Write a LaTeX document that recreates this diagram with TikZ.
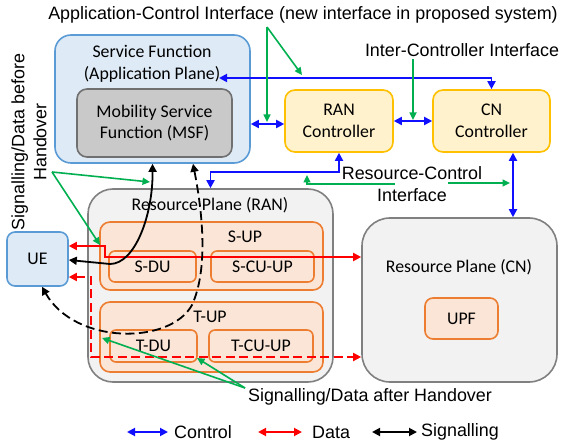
\documentclass[tikz,border=0pt]{standalone}
\usepackage{fontspec}
\setmainfont{Carlito}
\newfontfamily\arialf{Liberation Sans}
\usetikzlibrary{arrows.meta,calc}
\definecolor{sfill}{HTML}{DEEBF7}
\definecolor{sdraw}{HTML}{5B9BD5}
\definecolor{gfill}{HTML}{C9C9C9}
\definecolor{gdraw}{HTML}{707070}
\definecolor{yfill}{HTML}{FFF2CC}
\definecolor{ydraw}{HTML}{FFC000}
\definecolor{pfill}{HTML}{F2F2F2}
\definecolor{pdraw}{HTML}{808080}
\definecolor{ofill}{HTML}{FBE5D6}
\definecolor{odraw}{HTML}{ED7D31}
\definecolor{ggreen}{HTML}{00B050}
\definecolor{cblue}{HTML}{1010FF}
\definecolor{dred}{HTML}{FF0000}
\begin{document}
\begin{tikzpicture}[x=1pt,y=-1pt,
  >={Triangle[length=8pt,width=8pt]},
  box/.style={rectangle, line width=1.6pt, inner sep=0pt, align=center,
    font=\fontsize{17.8}{21.5}\selectfont},
  bluebox/.style={box, draw=sdraw, fill=sfill},
  graybox/.style={box, draw=gdraw, fill=gfill},
  ybox/.style={box, draw=ydraw, fill=yfill, rounded corners=10pt},
  pbox/.style={box, draw=pdraw, fill=pfill},
  obox/.style={box, draw=odraw, fill=ofill},
  txt/.style={inner sep=0pt, align=center, font=\fontsize{17.8}{21.5}\selectfont},
  atxt/.style={inner sep=0pt, align=center, font=\arialf\fontsize{17.9}{22}\selectfont},
  ctrl/.style={draw=cblue, line width=1.8pt},
  data/.style={draw=dred, line width=1.8pt},
  sig/.style={draw=black, line width=1.8pt},
  dashpat/.style={dash pattern=on 9pt off 4.5pt},
  ptr/.style={draw=ggreen, line width=1.6pt, -{Triangle[length=7.5pt,width=7pt]}}
]
\useasboundingbox (0,0) rectangle (561,443);

% boxes
\node[bluebox, rounded corners=16pt, minimum width=195pt, minimum height=128pt] (sf) at (152.5,99) {};
\node[txt] (sftxt) at (152,64) {Service Function\\(Application Plane)};
\node[graybox, rounded corners=10pt, minimum width=155pt, minimum height=68pt] (msf) at (154.5,123) {Mobility Service\\Function (MSF)};
\node[ybox, minimum width=108pt, minimum height=62pt] (ranc) at (339,121) {RAN\\Controller};
\node[ybox, minimum width=117pt, minimum height=62pt] (cnc) at (491.5,121) {CN\\Controller};

\node[pbox, rounded corners=25pt, minimum width=245pt, minimum height=193pt] (rpran) at (210.5,285.5) {};
\node[txt] (rprantxt) at (210,205) {Resource Plane (RAN)};
\node[obox, rounded corners=10pt, minimum width=223pt, minimum height=68pt] (sup) at (211.5,256) {};
\node[txt] (suptxt) at (245,237) {S-UP};
\node[obox, rounded corners=6pt, minimum width=87pt, minimum height=31pt] (sdu) at (152.5,266.5) {S-DU};
\node[obox, rounded corners=6pt, minimum width=103pt, minimum height=31pt] (scu) at (262.5,266.5) {S-CU-UP};
\node[obox, rounded corners=10pt, minimum width=223pt, minimum height=70pt] (tup) at (211.5,337) {};
\node[txt] (tuptxt) at (210,317) {T-UP};
\node[obox, rounded corners=6pt, minimum width=87pt, minimum height=32pt] (tdu) at (153.5,346) {T-DU};
\node[obox, rounded corners=6pt, minimum width=104pt, minimum height=32pt] (tcu) at (261,346) {T-CU-UP};

\node[bluebox, rounded corners=8pt, minimum width=61pt, minimum height=54pt] (ue) at (37.5,259) {UE};

\node[pbox, rounded corners=28pt, minimum width=195pt, minimum height=164pt] (rpcn) at (459.5,300) {};
\node[txt] (rpcntxt) at (459,267) {Resource Plane (CN)};
\node[obox, rounded corners=8pt, minimum width=73pt, minimum height=41pt] (upf) at (461.5,318.5) {UPF};

% labels
\node[atxt] (aci) at (303,15) {Application-Control Interface (new interface in proposed system)};
\node[atxt] (ici) at (462,50) {Inter-Controller Interface};
\node[atxt] (rci) at (412,184) {Resource-Control\\Interface};
\node[atxt, rotate=90] (bh) at (29,142) {Signalling/Data before\\Handover};
\node[atxt] (ah) at (370,397) {Signalling/Data after Handover};

% control connectors
\coordinate (apptip) at (219,78);
\draw[ctrl,<->] (apptip) -| (cnc.north);
\draw[ctrl,<->] (sf.east |- 0,124) -- (ranc.west |- 0,124);
\draw[ctrl,<->] (ranc.east) -- (cnc.west);
\draw[ctrl,<->] (ranc.south) -- ++(0,19) -| (rpran.north);
\draw[ctrl,<->] (cnc.south -| 513,0) -- (rpcn.north -| 513,0);

% data connectors
\draw[data,<->] (ue.east |- 0,246) -| (105,257) -- (rpcn.west |- 0,257);
\draw[data,dashpat,<->] (ue.east |- 0,277) -| (91,357) -- (rpcn.west |- 0,357);

% signalling connectors
\draw[sig,<->] (ue.east |- 0,260) -- (110,264) .. controls (135,264) and (153,215) .. (sf.south);
\draw[sig,dashpat,<->] ([xshift=40.5pt]sf.south) .. controls (203,215) and (208,270) .. (192,305)
   .. controls (170,345) and (75,345) .. ([xshift=4.5pt]ue.south);

% green pointers
\coordinate (acio) at (267,27);
\coordinate (aciA) at (267,122);
\coordinate (aciB) at (302,75);
\draw[ptr] (acio) -- (aciA);
\draw[ptr] (acio) -- (aciB);
\coordinate (icio) at (413,59);
\coordinate (iciA) at (413,120);
\draw[ptr] (icio) -- (iciA);
\coordinate (rcio) at (395,184);
\coordinate (rciA) at (307,175);
\coordinate (rcip) at (448,183);
\coordinate (rciB) at (510,183);
\draw[ptr] (rcio) -| (rciA);
\draw[ptr] (rcip) -- (rciB);
\coordinate (bho) at (52,172);
\coordinate (bhA) at (150,182);
\coordinate (bhB) at (100,245);
\draw[ptr] (bho) -- (bhA);
\draw[ptr] (bho) -- (bhB);
\coordinate (aho) at (245,388);
\coordinate (ahA) at (102,338);
\coordinate (ahB) at (197,358);
\draw[ptr] (aho) -- (ahA);
\draw[ptr] (aho) -- (ahB);

% legend
\coordinate (lc1) at (127,432);
\coordinate (lc2) at (168,432);
\draw[ctrl,<->] (lc1) -- (lc2);
\node[atxt, anchor=west] (lct) at (174,432) {Control};
\coordinate (ld1) at (258,432);
\coordinate (ld2) at (302,432);
\draw[data,<->] (ld1) -- (ld2);
\node[atxt, anchor=west] (ldt) at (312,432) {Data};
\coordinate (ls1) at (372,432);
\coordinate (ls2) at (417,432);
\draw[sig,<->] (ls1) -- (ls2);
\node[atxt, anchor=west] (lst) at (421,432) {Signalling};
\end{tikzpicture}
\end{document}
